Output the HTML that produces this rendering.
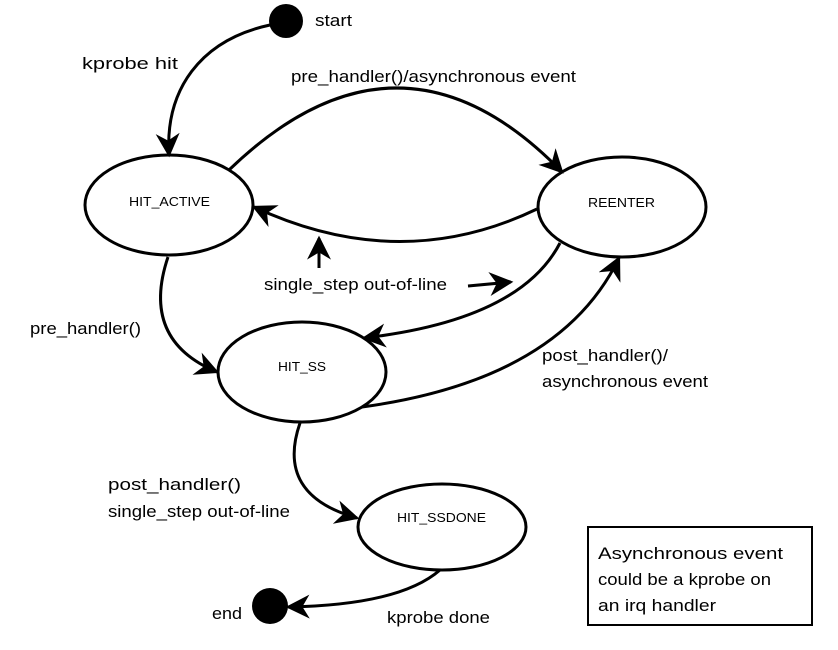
<!DOCTYPE html>
<html><head><meta charset="utf-8"><style>
html,body{margin:0;padding:0;background:#fff;}
svg{display:block;font-family:"Liberation Sans",Arial,sans-serif;}
</style></head><body>
<svg width="838" height="650" viewBox="0 0 838 650" xmlns="http://www.w3.org/2000/svg">
<defs>
<marker id="a" viewBox="0 0 20 20" refX="18" refY="10" markerWidth="24" markerHeight="24" markerUnits="userSpaceOnUse" orient="auto">
<path d="M0,0 L20,10 L0,20 L6,10 Z" fill="#000"/>
</marker>
</defs>
<g fill="none" stroke="#000" stroke-width="3">
<ellipse cx="169" cy="205" rx="84" ry="50"/>
<ellipse cx="622" cy="207" rx="84" ry="50"/>
<ellipse cx="302" cy="372" rx="84" ry="50"/>
<ellipse cx="442" cy="527" rx="84" ry="43"/>
<path d="M270,25 C200,40 165,90 169,155" marker-end="url(#a)"/>
<path d="M229,170 Q400,5 562,172" marker-end="url(#a)"/>
<path d="M537,209 Q400,275 254,207" marker-end="url(#a)"/>
<path d="M319,268 L319,238" marker-end="url(#a)"/>
<path d="M468,286 L511,282" marker-end="url(#a)"/>
<path d="M560,243 Q520,320 364,338" marker-end="url(#a)"/>
<path d="M362,407 Q560,380 619,258" marker-end="url(#a)"/>
<path d="M168,257 Q140,340 217,372" marker-end="url(#a)"/>
<path d="M300,423 Q275,495 357,518" marker-end="url(#a)"/>
<path d="M440,570 Q400,605 288,607" marker-end="url(#a)"/>
<rect x="588" y="527" width="224" height="98" stroke-width="2"/>
</g>
<circle cx="286" cy="21" r="17" fill="#000"/>
<circle cx="270" cy="606" r="18" fill="#000"/>
<g font-size="17" fill="#000">
<text x="315" y="26" textLength="37" lengthAdjust="spacingAndGlyphs">start</text>
<text x="82" y="69" textLength="96" lengthAdjust="spacingAndGlyphs">kprobe hit</text>
<text x="291" y="82" textLength="285" lengthAdjust="spacingAndGlyphs">pre_handler()/asynchronous event</text>
<text x="264" y="290" textLength="183" lengthAdjust="spacingAndGlyphs">single_step out-of-line</text>
<text x="30" y="334" textLength="111" lengthAdjust="spacingAndGlyphs">pre_handler()</text>
<text x="542" y="361" textLength="126" lengthAdjust="spacingAndGlyphs">post_handler()/</text>
<text x="542" y="387" textLength="166" lengthAdjust="spacingAndGlyphs">asynchronous event</text>
<text x="108" y="490" textLength="133" lengthAdjust="spacingAndGlyphs">post_handler()</text>
<text x="108" y="517" textLength="182" lengthAdjust="spacingAndGlyphs">single_step out-of-line</text>
<text x="212" y="619" textLength="30" lengthAdjust="spacingAndGlyphs">end</text>
<text x="387" y="623" textLength="103" lengthAdjust="spacingAndGlyphs">kprobe done</text>
<text x="598" y="559" textLength="185" lengthAdjust="spacingAndGlyphs">Asynchronous event</text>
<text x="598" y="585" textLength="173" lengthAdjust="spacingAndGlyphs">could be a kprobe on</text>
<text x="598" y="611" textLength="118" lengthAdjust="spacingAndGlyphs">an irq handler</text>
</g>
<g font-size="13" fill="#000">
<text x="129" y="206" textLength="81" lengthAdjust="spacingAndGlyphs">HIT_ACTIVE</text>
<text x="588" y="207" textLength="67" lengthAdjust="spacingAndGlyphs">REENTER</text>
<text x="278" y="371" textLength="48" lengthAdjust="spacingAndGlyphs">HIT_SS</text>
<text x="397" y="522" textLength="89" lengthAdjust="spacingAndGlyphs">HIT_SSDONE</text>
</g>
</svg>
</body></html>
